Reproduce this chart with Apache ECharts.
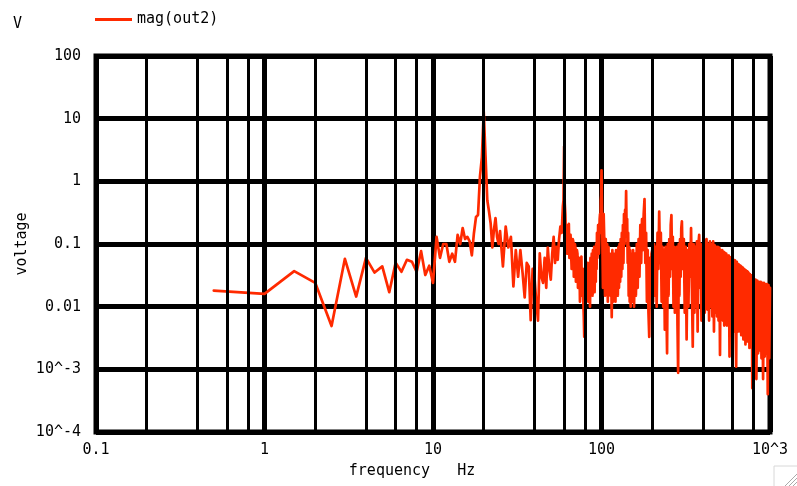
<!DOCTYPE html>
<html><head><meta charset="utf-8">
<script src="https://cdn.jsdelivr.net/npm/echarts@6/dist/echarts.min.js"></script>
<style>html,body{margin:0;padding:0;background:#fff}#c{width:797px;height:486px}</style>
</head><body><div id="c"></div><script>
// ---- data ----
const seriesName = 'mag(out2)';
const xAxisName = 'frequency   Hz';
const yAxisName = 'voltage';
const unitLabel = 'V';

const freqA = [0.5,1,1.5,2,2.5,3,3.5,4,4.5,5,5.5,6,6.5,7,7.5,8,8.5,9,9.5,10,10.5,11,11.5,12,12.5,13,13.5,14,14.5,15,15.5,16,16.5,17,17.5,18,18.5,19,19.5,20];
const magA  = [0.018,0.016,0.037,0.024,0.0049,0.058,0.0145,0.060,0.035,0.044,0.017,0.050,0.036,0.056,0.052,0.036,0.077,0.032,0.045,0.024,0.13,0.06,0.1,0.1,0.052,0.07,0.052,0.14,0.1,0.18,0.12,0.13,0.11,0.066,0.15,0.27,0.29,1.2,2.4,13];

const freqB1 = [20.5,21,21.5,22,22.5,23,23.5,24,24.5,25];
const magB1  = [2.5,0.5,0.33,0.21,0.088,0.17,0.26,0.13,0.1,0.16];

const freqB2 = [26,27,28,29,30,31,32,33,34,35,36,37,38,39,40,41,42,43,44,45,46,47,48,49,50,51,52,53,54,55,56,57,58,59];
const magB2  = [0.044,0.19,0.088,0.13,0.021,0.08,0.03,0.08,0.035,0.014,0.05,0.044,0.0061,0.04,0.03,0.012,0.006,0.071,0.03,0.024,0.06,0.02,0.088,0.04,0.027,0.07,0.13,0.05,0.09,0.056,0.12,0.19,0.15,0.4];

const freqB3 = [59.5,60,60.5,61,61.5,62,62.5,63,63.5,64,64.5,65,65.5,66,66.5,67,67.5,68,68.5,69,69.5,70,70.5,71,71.5,72,72.5,73,73.5,74,74.5,75,75.5,76,76.5,77,77.5,78,78.5,79,79.5,80,80.5,81,81.5,82,82.5,83,83.5,84,84.5,85,85.5,86,86.5,87,87.5,88,88.5,89,89.5,90,90.5,91,91.5,92,92.5,93,93.5,94,94.5,95,95.5,96,96.5,97,97.5,98,98.5,99,99.5];
const magB3  = [0.5,3.6,0.45,0.3,0.12,0.2,0.07,0.11,0.18,0.21,0.06,0.09,0.14,0.15,0.04,0.071,0.12,0.11,0.03,0.05,0.1,0.088,0.025,0.04,0.08,0.07,0.02,0.027,0.06,0.05,0.012,0.02,0.05,0.063,0.015,0.03,0.04,0.012,0.007,0.0033,0.01,0.025,0.01,0.039,0.015,0.02,0.045,0.05,0.012,0.015,0.04,0.034,0.01,0.06,0.02,0.025,0.07,0.05,0.015,0.08,0.03,0.03,0.09,0.017,0.04,0.06,0.025,0.1,0.04,0.15,0.06,0.08,0.2,0.18,0.07,0.12,0.25,0.3,0.15,0.5,0.6];

const freqC1 = [100,101,102,103,104,105,106,107,108,109,110,111,112,113,114,115,116,117,118,119,120,121,122,123,124,125,126,127,128,129,130,131,132,133,134,135,136,137,138,139,140,141,142,143,144,145,146,147,148,149];
const magC1  = [1.5,0.2,0.02,0.3,0.1,0.015,0.12,0.02,0.1,0.012,0.09,0.02,0.07,0.015,0.06,0.0068,0.08,0.012,0.07,0.015,0.06,0.012,0.08,0.02,0.07,0.015,0.09,0.02,0.1,0.025,0.12,0.03,0.15,0.04,0.2,0.05,0.3,0.1,0.35,0.2,0.7,0.15,0.25,0.05,0.15,0.015,0.09,0.012,0.08,0.01];

const freqC2 = [150,152,154,156,158,160,162,164,166,168,170,172,174,176,178,180,182,184,186,188,190,192,194,196,198];
const magC2  = [0.07,0.012,0.08,0.01,0.07,0.015,0.1,0.02,0.12,0.03,0.2,0.05,0.25,0.08,0.3,0.52,0.05,0.15,0.012,0.08,0.008,0.0033,0.06,0.01,0.07];

const freqD1 = [200,202.5,205,207.5,210,212.5,215,217.5,220,222.5,225,227.5,230,232.5,235,237.5,240,242.5,245,247.5,250,252.5,255,257.5,260,262.5,265,267.5,270,272.5,275,277.5,280,282.5,285,287.5,290,292.5,295,297.5];
const magD1  = [0.08,0.012,0.1,0.015,0.09,0.01,0.15,0.04,0.33,0.05,0.15,0.012,0.09,0.01,0.08,0.0043,0.09,0.012,0.0018,0.1,0.015,0.12,0.03,0.2,0.29,0.04,0.13,0.01,0.09,0.008,0.08,0.012,0.09,0.005,0.00088,0.1,0.015,0.12,0.03,0.18];

const freqD2 = [300,304,308,312,316,320,324,328,332,336,340,344,348,352,356,360,364,368,372,376,380,384,388,392,396];
const magD2  = [0.23,0.04,0.12,0.008,0.09,0.003,0.08,0.01,0.1,0.03,0.18,0.02,0.0023,0.1,0.008,0.09,0.01,0.11,0.004,0.1,0.14,0.02,0.1,0.006,0.09];

const freqE1 = [400,405,410,415,420,425,430,435,440,445,450,455,460,465,470,475,480,485,490,495,500,505,510,515,520,525,530,535,540,545,550,555,560,565,570,575,580,585,590,595];
const magE1  = [0.01,0.1,0.008,0.11,0.12,0.009,0.1,0.006,0.11,0.01,0.1,0.007,0.11,0.004,0.095,0.008,0.09,0.007,0.09,0.006,0.088,0.0017,0.08,0.007,0.08,0.006,0.075,0.005,0.072,0.007,0.07,0.005,0.066,0.006,0.065,0.0016,0.062,0.005,0.06,0.006];

const freqE2 = [600,605,610,615,620,625,630,635,640,645,650,655,660,665,670,675,680,685,690,695,700,705,710,715,720,725,730,735,740,745,750,755,760,765,770,775,780,785,790,795];
const magE2  = [0.058,0.005,0.056,0.004,0.055,0.005,0.0011,0.052,0.05,0.004,0.048,0.005,0.046,0.004,0.045,0.0035,0.043,0.004,0.042,0.003,0.04,0.0035,0.039,0.0025,0.038,0.003,0.037,0.0028,0.036,0.003,0.034,0.0022,0.033,0.0026,0.032,0.0025,0.03,0.0005,0.03,0.002];

const freqE3 = [800,810,820,830,840,850,860,870,880,890,900,910,920,930,940,950,960,970,980,990,1000];
const magE3  = [0.028,0.002,0.027,0.0007,0.026,0.0018,0.025,0.002,0.025,0.0015,0.024,0.0007,0.024,0.0016,0.023,0.0018,0.023,0.0004,0.022,0.0015,0.02];

const xTickValues = [0.1, 1, 10, 100, 1000];
const xTickLabels = ['0.1', '1', '10', '100', '10^3'];
const yTickValues = [0.0001, 0.001, 0.01, 0.1, 1, 10, 100];
const yTickLabels = ['10^-4', '10^-3', '0.01', '0.1', '1', '10', '100'];
const minorGridX = [0.2,0.4,0.6,0.8,2,4,6,8,20,40,60,80,200,400,600,800];

// ---- build ----
const freqs = [].concat(freqA, freqB1, freqB2, freqB3, freqC1, freqC2, freqD1, freqD2, freqE1, freqE2, freqE3);
const mags = [].concat(magA, magB1, magB2, magB3, magC1, magC2, magD1, magD2, magE1, magE2, magE3);
const lineData = freqs.map((f, i) => [f, mags[i]]);

function lookup(vals, labels, v) {
  for (let i = 0; i < vals.length; i++) {
    if (Math.abs(Math.log10(v) - Math.log10(vals[i])) < 1e-6) return labels[i];
  }
  return '';
}

const FONT = 'DejaVu Sans Mono';
const FS = 15;
const RED = '#ff2a00';
const chart = echarts.init(document.getElementById('c'), null, {renderer: 'canvas'});
chart.setOption({
  animation: false,
  backgroundColor: '#ffffff',
  textStyle: {fontFamily: FONT},
  grid: {left: 96, right: 27, top: 56, bottom: 54, show: true, borderColor: '#000', borderWidth: 5, backgroundColor: 'transparent'},
  legend: {
    left: 95, top: 12, padding: 0, itemWidth: 37, itemHeight: 3, icon: 'rect',
    data: [seriesName],
    textStyle: {fontFamily: FONT, fontSize: FS, color: '#000'}
  },
  xAxis: {
    type: 'log', logBase: 10, min: 0.1, max: 1000, splitNumber: 4,
    axisLine: {show: false}, axisTick: {show: false},
    axisLabel: {margin: 11, fontSize: FS, color: '#000', fontFamily: FONT,
      formatter: v => lookup(xTickValues, xTickLabels, v)},
    splitLine: {show: true, lineStyle: {color: '#000', width: 5}},
    name: xAxisName, nameLocation: 'middle', nameGap: 32, nameMoveOverlap: false,
    nameTextStyle: {fontFamily: FONT, fontSize: FS, color: '#000', padding: [0, 42, 0, 0]}
  },
  yAxis: {
    type: 'log', logBase: 10, min: 0.0001, max: 100, splitNumber: 6,
    axisLine: {show: false}, axisTick: {show: false},
    axisLabel: {margin: 15, fontSize: FS, color: '#000', fontFamily: FONT,
      formatter: v => lookup(yTickValues, yTickLabels, v)},
    splitLine: {show: true, lineStyle: {color: '#000', width: 5}},
    name: yAxisName, nameLocation: 'middle', nameGap: 66, nameMoveOverlap: false,
    nameTextStyle: {fontFamily: FONT, fontSize: FS, color: '#000'}
  },
  graphic: [
    {type: 'text', left: 13, top: 17, style: {text: unitLabel, font: FS + 'px ' + FONT, fill: '#000'}},
    {type: 'polyline', shape: {points: [[774, 486], [774, 466], [797, 466]]}, style: {stroke: '#d8d8d8', lineWidth: 1, fill: null}},
    {type: 'line', shape: {x1: 785, y1: 486, x2: 797, y2: 474}, style: {stroke: '#aaa', lineWidth: 1}},
    {type: 'line', shape: {x1: 789, y1: 486, x2: 797, y2: 478}, style: {stroke: '#aaa', lineWidth: 1}},
    {type: 'line', shape: {x1: 793, y1: 486, x2: 797, y2: 482}, style: {stroke: '#aaa', lineWidth: 1}}
  ],
  series: [
    {
      type: 'line', name: 'minor-grid', data: [], silent: true, z: 1,
      markLine: {
        silent: true, symbol: 'none', animation: false,
        label: {show: false},
        lineStyle: {color: '#000', width: 3, type: 'solid'},
        emphasis: {disabled: true},
        data: minorGridX.map(v => ({xAxis: v}))
      }
    },
    {
      type: 'line', name: seriesName, data: lineData, z: 3,
      showSymbol: false, symbol: 'none',
      lineStyle: {color: RED, width: 2.7, join: 'round', cap: 'round'},
      itemStyle: {color: RED}
    }
  ]
});
</script></body></html>
